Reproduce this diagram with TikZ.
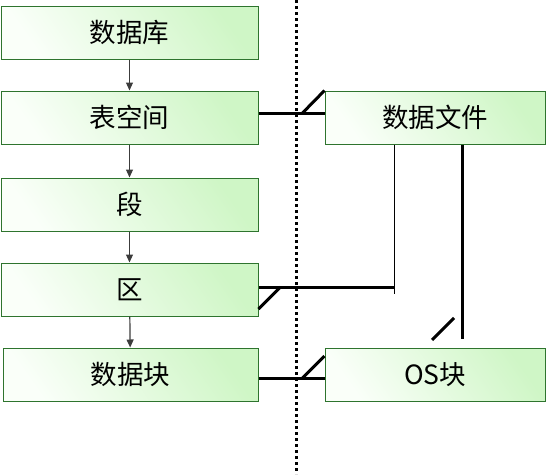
\documentclass[tikz,border=0pt]{standalone}
\usepackage{fontspec}
\newfontfamily\cjk{Noto Sans CJK SC}
\usetikzlibrary{arrows.meta}
\definecolor{boxgreen}{HTML}{2E742E}
\definecolor{boxlight}{HTML}{CFF6C6}
\definecolor{boxwhite}{HTML}{FAFFF9}
\definecolor{arrgray}{HTML}{3C3C3C}
\begin{document}
\begin{tikzpicture}[x=1pt,y=-1pt,
  box/.style={draw=boxgreen, line width=1pt, shading=axis, top color=boxlight, bottom color=boxwhite, shading angle=-55, minimum height=53pt, inner sep=0pt, font=\cjk\fontsize{26.5}{30}\selectfont, text=black},
  arr/.style={draw=arrgray, line width=1.2pt, -{Triangle[width=7pt,length=8pt]}},
  rel/.style={line width=3pt},
  thinrel/.style={line width=1.3pt},
  divider/.style={line width=3pt, dash pattern=on 3pt off 3pt}]
\path[use as bounding box] (0,0) rectangle (546,474);
% left column
\node[box, minimum width=257pt] (db)  at (129.5,32.5)  {数据库};
\node[box, minimum width=257pt] (ts)  at (129.5,117.5) {表空间};
\node[box, minimum width=257pt] (seg) at (129.5,204.5) {段};
\node[box, minimum width=257pt] (ext) at (129.5,289.5) {区};
\node[box, minimum width=255pt] (blk) at (130.5,374.5) {数据块};
% right column
\node[box, minimum width=220pt] (df) at (435,117.5) {数据文件};
\node[box, minimum width=220pt] (os) at (435,374.5) {OS块};
% arrows
\draw[arr] (db) -- (ts);
\draw[arr] (ts) -- (seg);
\draw[arr] (seg) -- (ext);
\draw[arr] (ext) -- (blk);
% divider
\coordinate (dtop) at (296,0);
\coordinate (dbot) at (296,474);
\draw[divider] (dtop) -- (dbot);
% tablespace - datafile
\draw[rel] ([yshift=4.5pt]ts.east) -- ([yshift=4.5pt]df.west);
\draw[rel] ([xshift=-22pt,yshift=4.5pt]df.west) -- (df.north west);
% extent - datafile
\coordinate (k1) at (394.5,287);
\coordinate (k2) at (394.5,294);
\draw[rel] ([yshift=2.5pt]ext.east) -- (k1);
\draw[rel] ([yshift=-19.5pt]ext.east) -- ([xshift=22pt,yshift=2.5pt]ext.east);
\draw[thinrel] (df.south -| k2) -- (k2);
% datafile - OS block
\coordinate (k3) at (462,339);
\coordinate (s1) at (432,340);
\coordinate (s2) at (454,318);
\draw[rel] (df.south -| k3) -- (k3);
\draw[rel] (s1) -- (s2);
% block - OS block
\draw[rel] ([yshift=-3.5pt]blk.east) -- ([yshift=-3.5pt]os.west);
\draw[rel] ([xshift=-22pt,yshift=-3.5pt]os.west) -- ([yshift=18.5pt]os.west);
\end{tikzpicture}
\end{document}
